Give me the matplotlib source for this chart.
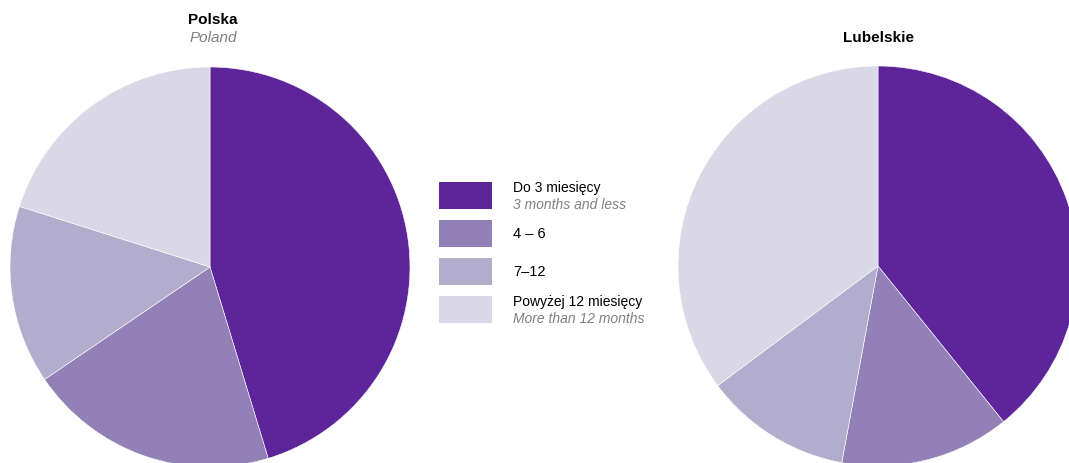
import matplotlib
matplotlib.use('Agg')
import matplotlib.pyplot as plt
from matplotlib.patches import Rectangle

plt.rcParams['font.family'] = ['Liberation Sans', 'DejaVu Sans']

labels_pl = ['Do 3 miesięcy', '4 – 6', '7–12', 'Powyżej 12 miesięcy']
labels_en = ['3 months and less', '', '', 'More than 12 months']
colors = ['#5E259B', '#9380B6', '#B3ADCD', '#DAD7E7']

polska = [45.3, 20.2, 14.4, 20.1]
lubelskie = [39.2, 13.7, 11.9, 35.2]

W, H = 1069, 464
fig = plt.figure(figsize=(W / 100, H / 100), dpi=100)
ax = fig.add_axes([0, 0, 1, 1])

for vals, cx, cy in [(polska, 210, H - 268), (lubelskie, 878, H - 267)]:
    ax.pie(vals, colors=colors, startangle=90, counterclock=False,
           center=(cx, cy), radius=200, frame=True,
           wedgeprops={'linewidth': 0.4, 'edgecolor': 'white'})
ax.set_xlim(0, W)
ax.set_ylim(0, H)
ax.set_aspect('equal')
ax.axis('off')

# titles
ax.text(213, H - 20, 'Polska', ha='center', va='center', fontsize=11, fontweight='bold')
ax.text(213, H - 38, 'Poland', ha='center', va='center', fontsize=11, style='italic', color='#808080')
ax.text(878, H - 38, 'Lubelskie', ha='center', va='center', fontsize=11, fontweight='bold')

# legend
box_top = [183, 221, 259, 297]
for i, (c, lp, le) in enumerate(zip(colors, labels_pl, labels_en)):
    y0 = box_top[i]
    ax.add_patch(Rectangle((439, H - y0 - 27), 53, 27, color=c, lw=0))
    if le:
        ax.text(513, H - y0 - 5, lp, ha='left', va='center', fontsize=10)
        ax.text(513, H - y0 - 22, le, ha='left', va='center', fontsize=10,
                style='italic', color='#808080')
    else:
        ax.text(513, H - y0 - 13, lp, ha='left', va='center', fontsize=10.5)

fig.savefig('out.png', dpi=100)
